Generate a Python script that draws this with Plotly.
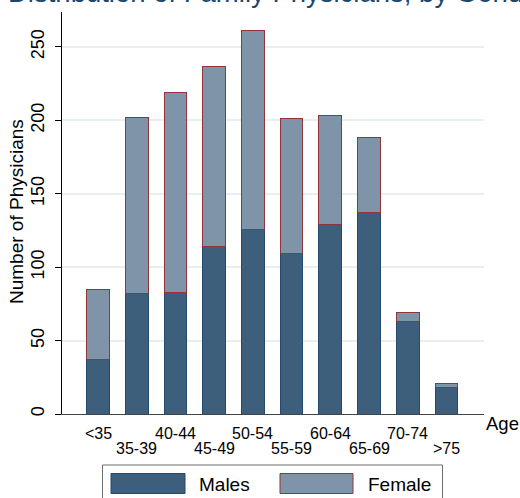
import plotly.graph_objects as go

categories = ["<35", "35-39", "40-44", "45-49", "50-54", "55-59", "60-64", "65-69", "70-74", ">75"]
males = [37, 82, 83, 114, 126, 109, 129, 137, 63, 18]
female = [48, 120, 136, 123, 135, 92, 74, 51, 6, 3]
y_ticks = [0, 50, 100, 150, 200, 250]

FONT = "Liberation Sans, Arial, sans-serif"
MALE_FILL = "#3e5f7b"
MALE_LINE = "#23496c"
FEM_FILL = "#8094a9"
FEM_LINE = "#90353b"

W, H = 520, 498
L, R, T, B = 62, 36, 12, 84
PW, PH = W - L - R, H - T - B


def px(p):
    return (p - L) / PW


def py(p):
    return (H - B - p) / PH


fig = go.Figure()
fig.add_trace(go.Bar(x=categories, y=males, name="Males",
                     marker=dict(color=MALE_FILL, line=dict(color=MALE_LINE, width=1))))
fig.add_trace(go.Bar(x=categories, y=female, name="Female",
                     marker=dict(color=FEM_FILL, line=dict(color=FEM_LINE, width=1))))

annotations = []
# staggered x tick labels
for i, c in enumerate(categories):
    annotations.append(dict(x=c, xref="x", y=py(433) if i % 2 == 0 else py(448.5), yref="paper",
                            text=c, showarrow=False, xanchor="center", yanchor="middle",
                            font=dict(family=FONT, size=16, color="black")))
# axis label "Age"
annotations.append(dict(x=px(484), xref="paper", y=py(423), yref="paper", text="Age",
                        showarrow=False, xanchor="left", yanchor="middle",
                        font=dict(family=FONT, size=18.5, color="black")))
# y axis title
annotations.append(dict(x=px(17), xref="paper", y=py(212), yref="paper", text="Number of Physicians",
                        showarrow=False, textangle=-90, xanchor="center", yanchor="middle",
                        font=dict(family=FONT, size=19, color="black")))
# title (cut off at top)
annotations.append(dict(x=px(6), xref="paper", y=py(10.5), yref="paper",
                        text="Distribution of Family Physicians, by Gender",
                        showarrow=False, xanchor="left", yanchor="bottom",
                        font=dict(family=FONT, size=27.5, color="#1a476f")))
# legend text
annotations.append(dict(x=px(197), xref="paper", y=py(484), yref="paper", text="Males",
                        showarrow=False, xanchor="left", yanchor="middle",
                        font=dict(family=FONT, size=19, color="black")))
annotations.append(dict(x=px(366), xref="paper", y=py(484), yref="paper", text="Female",
                        showarrow=False, xanchor="left", yanchor="middle",
                        font=dict(family=FONT, size=19, color="black")))

shapes = [
    dict(type="rect", xref="paper", yref="paper", x0=px(102.5), x1=px(442.5), y0=py(465), y1=py(520),
         line=dict(color="#6e6e6e", width=1), fillcolor="white"),
    dict(type="rect", xref="paper", yref="paper", x0=px(111), x1=px(185), y0=py(473.5), y1=py(493.5),
         line=dict(color=MALE_LINE, width=1), fillcolor=MALE_FILL),
    dict(type="rect", xref="paper", yref="paper", x0=px(280), x1=px(353), y0=py(473.5), y1=py(493.5),
         line=dict(color=FEM_LINE, width=1), fillcolor=FEM_FILL),
]

fig.update_layout(
    width=W, height=H,
    margin=dict(l=L, r=R, t=T, b=B, pad=0),
    barmode="stack", bargap=0.413,
    paper_bgcolor="white", plot_bgcolor="white",
    showlegend=False,
    font=dict(family=FONT, color="black"),
    annotations=annotations,
    shapes=shapes,
    xaxis=dict(type="category", range=[-0.93, 9.97], showticklabels=False, ticks="",
               showgrid=False, showline=True, linecolor="#444444", linewidth=1, zeroline=False),
    yaxis=dict(range=[0, 273.8], tickvals=y_ticks, tickangle=-90, tickfont=dict(size=18, family=FONT),
               showline=True, linecolor="black", linewidth=1, ticks="outside", ticklen=6,
               tickcolor="black", gridcolor="#e8eff2", gridwidth=1.5, zeroline=False,
               ticklabelstandoff=4),
)

fig.write_html("out.html", config={"displayModeBar": False},
               post_script="document.body.style.margin='0';document.body.style.overflow='hidden';")
